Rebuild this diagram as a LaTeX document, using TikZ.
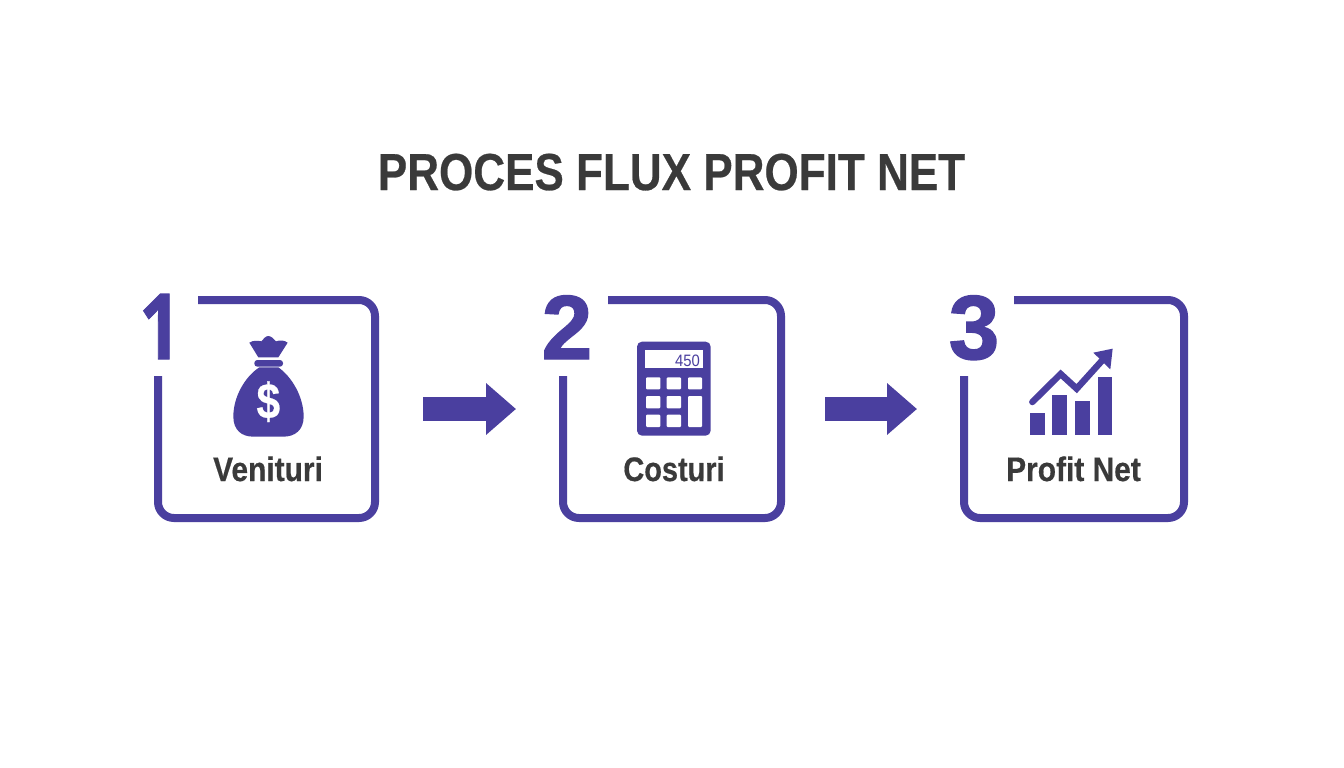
\documentclass[tikz,border=0pt]{standalone}
\usepackage{fontspec}
\setmainfont{Liberation Sans}[BoldFeatures={FakeBold=0.5}]
\newfontfamily\numfont{Liberation Sans Bold}[FakeBold=1.5]
\newfontfamily\onefont{Open Sans Bold}[FakeBold=1.2]
\usetikzlibrary{arrows.meta}
\definecolor{brandviolet}{HTML}{4A3F9F}
\definecolor{inkgray}{HTML}{3A3A3A}
\tikzset{
  x=1pt,y=-1pt,
  frameline/.style={draw=brandviolet,line width=8pt,line cap=butt,rounded corners=16pt},
  boxanchor/.style={minimum width=#1,minimum height=226pt,inner sep=0pt,outer sep=0pt},
  steplabel/.style={text=inkgray,inner sep=0pt,anchor=base,font=\bfseries\fontsize{34}{34}\selectfont},
  digitlabel/.style={text=brandviolet,inner sep=0pt,anchor=base,font=\numfont\fontsize{91}{91}\selectfont},
  blockarrow/.style={draw=brandviolet,line width=24pt,-{Triangle[length=30pt,width=50pt]}},
  icon/.style={fill=brandviolet,draw=none},
  keycap/.style={fill=white,draw=none,rounded corners=1pt}
}
\begin{document}
\begin{tikzpicture}
\useasboundingbox[fill=white] (0,0) rectangle (1344,768);
\node[text=inkgray,inner sep=0pt,anchor=base,font=\bfseries\fontsize{52}{52}\selectfont] (title) at (671.5,190) {\scalebox{0.847}[1]{PROCES FLUX PROFIT NET}};
% box anchors
\node[boxanchor=225pt] (box1) at (266.5,409) {};
\node[boxanchor=226pt] (box2) at (672,409) {};
\node[boxanchor=228pt] (box3) at (1074,409) {};
% frames
\draw[frameline] (198,300) -- (375,300) -- (375,518) -- (158,518) -- (158,376);
\draw[frameline] (608,300) -- (781,300) -- (781,518) -- (563,518) -- (563,376);
\draw[frameline] (1014,300) -- (1184,300) -- (1184,518) -- (964,518) -- (964,376);
% digits
\node[digitlabel,font=\onefont\fontsize{91}{91}\selectfont] (d1) at (160,359) {\scalebox{0.8}[1]{1}};
\node[digitlabel] (d2) at (567,359) {2};
\node[digitlabel] (d3) at (974,359) {3};
% arrows
\draw[blockarrow,shorten <=44pt,shorten >=43pt] (box1.east) -- (box2.west);
\draw[blockarrow,shorten <=40pt,shorten >=43pt] (box2.east) -- (box3.west);
% money bag
\begin{scope}[shift={(130,280)},scale=1/3]
\fill[icon] (388,262) .. controls (345,290) and (310,350) .. (310,410) .. controls (310,450) and (335,470) .. (370,470) -- (460,470) .. controls (495,470) and (521,450) .. (521,410) .. controls (521,350) and (485,290) .. (445,262) -- cycle;
\fill[icon,rounded corners=3pt] (373,240) rectangle (459,260);
\fill[icon] (385,232) -- (358,188) .. controls (370,180) and (385,182) .. (394,184) .. controls (400,176) and (408,168) .. (415,168) .. controls (422,168) and (432,176) .. (438,184) .. controls (450,180) and (462,180) .. (473,188) -- (445,232) -- cycle;
\node[text=white,inner sep=0pt,font=\bfseries\fontsize{50}{50}\selectfont] (dollar) at (415,365) {\scalebox{0.85}[1]{\$}};
\end{scope}
% calculator
\begin{scope}[shift={(530,280)},scale=1/3]
\fill[icon,rounded corners=5pt] (321,185) rectangle (542,467);
\fill[white] (345,210) rectangle (518,265);
\node[text=brandviolet,inner sep=0pt,anchor=base east,font=\fontsize{16.5}{16.5}\selectfont] (display) at (510,258) {\scalebox{0.9}[1]{450}};
\fill[keycap] (348,292) rectangle (391,328);
\fill[keycap] (410,292) rectangle (453,328);
\fill[keycap] (474,292) rectangle (516,328);
\fill[keycap] (348,348) rectangle (391,385);
\fill[keycap] (410,348) rectangle (453,385);
\fill[keycap] (348,404) rectangle (391,441);
\fill[keycap] (410,404) rectangle (453,441);
\fill[keycap] (474,348) rectangle (516,441);
\end{scope}
% chart
\begin{scope}[shift={(935,280)},scale=1/3]
\fill[icon] (284,400) rectangle (330,466);
\fill[icon] (352,346) rectangle (397,466);
\fill[icon] (420,362) rectangle (465,466);
\fill[icon] (488,290) rectangle (532,466);
\draw[brandviolet,line width=6.5pt,line join=miter,line cap=round] (292,366) -- (377,282) -- (425,326) -- (510,232);
\fill[icon] (533,206) -- (475,218) -- (526,268) -- cycle;
\end{scope}
% labels
\node[steplabel] (l1) at (268,481) {\scalebox{0.88}[1]{Venituri}};
\node[steplabel] (l2) at (674,481) {\scalebox{0.85}[1]{Costuri}};
\node[steplabel] (l3) at (1073.5,481) {\scalebox{0.88}[1]{Profit Net}};
\end{tikzpicture}
\end{document}
